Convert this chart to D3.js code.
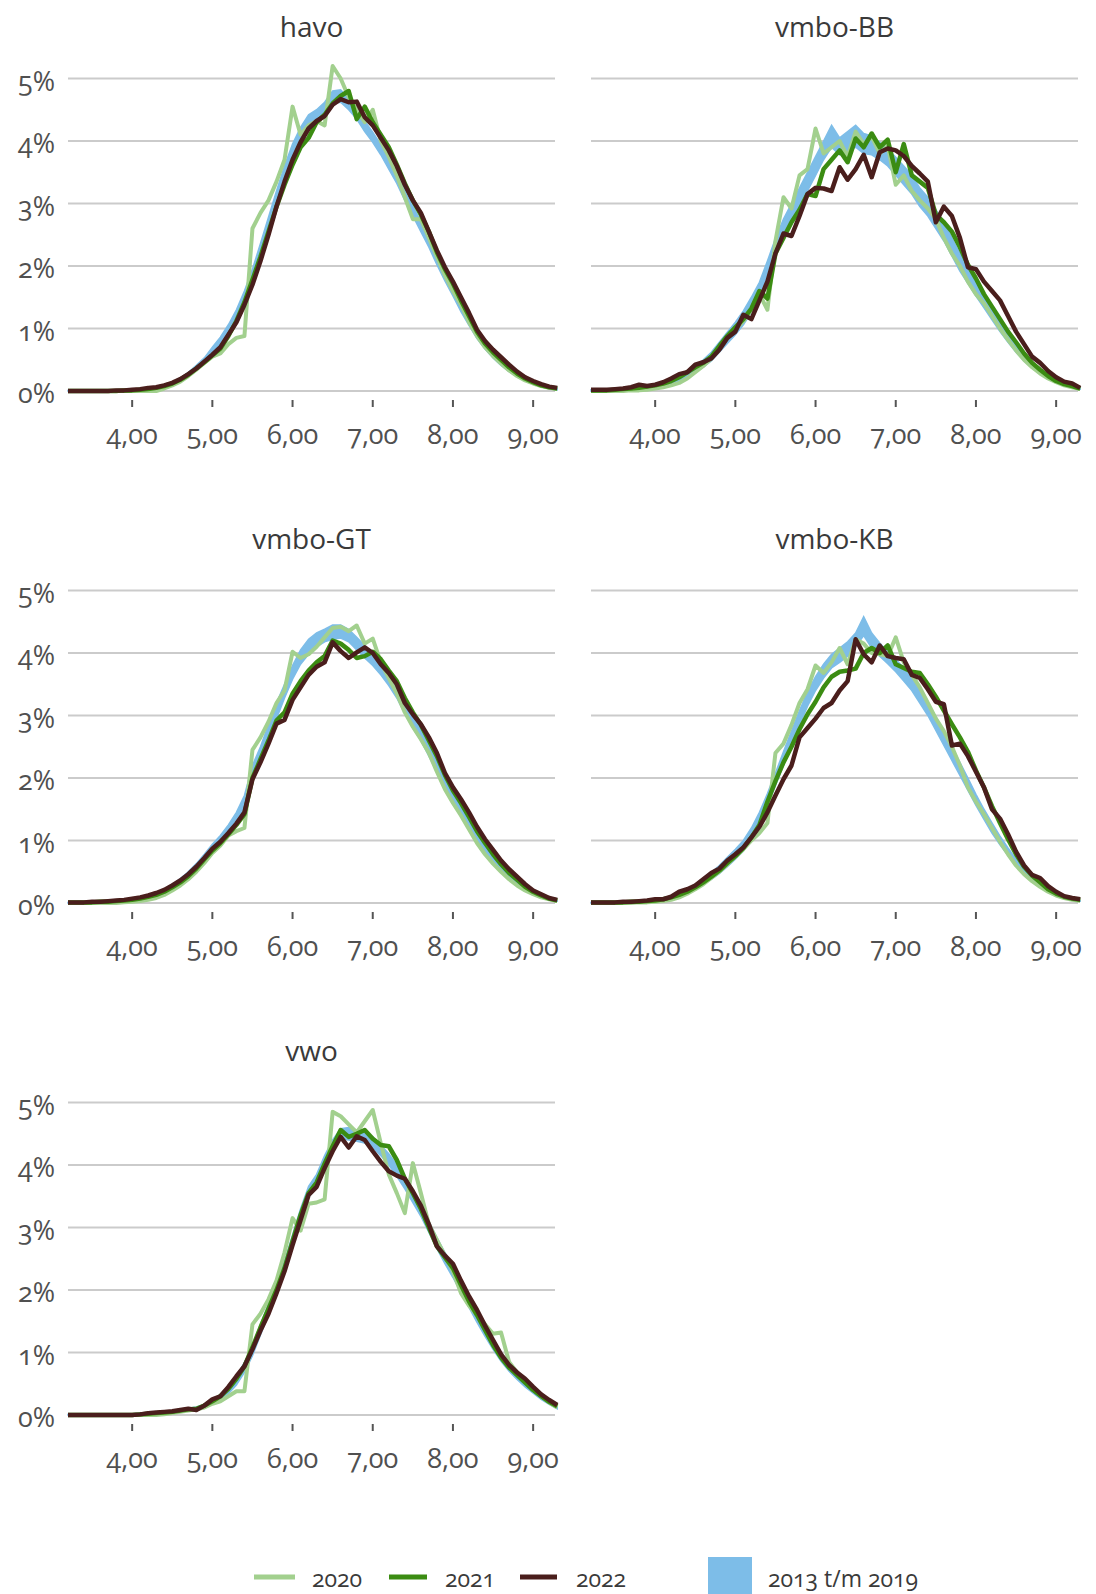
<!DOCTYPE html>
<html><head><meta charset="utf-8">
<script src="https://cdn.jsdelivr.net/npm/d3@7"></script>
<style>
body{margin:0;background:#fff;}
svg text{font-family:"Open Sans",sans-serif;font-feature-settings:"onum" 1;font-variant-numeric:oldstyle-nums;}
</style></head><body>
<svg id="chart" width="1096" height="1594"></svg>
<script>
// ---------- categories / ticks ----------
const grades = [3.2,3.3,3.4,3.5,3.6,3.7,3.8,3.9,
  4.0,4.1,4.2,4.3,4.4,4.5,4.6,4.7,4.8,4.9,
  5.0,5.1,5.2,5.3,5.4,5.5,5.6,5.7,5.8,5.9,
  6.0,6.1,6.2,6.3,6.4,6.5,6.6,6.7,6.8,6.9,
  7.0,7.1,7.2,7.3,7.4,7.5,7.6,7.7,7.8,7.9,
  8.0,8.1,8.2,8.3,8.4,8.5,8.6,8.7,8.8,8.9,
  9.0,9.1,9.2,9.3];
const panelNames = ["havo","vmbo-BB","vmbo-GT","vmbo-KB","vwo"];
const yearNames = ["2020","2021","2022"];
const bandName = "2013 t/m 2019";
const xTickValues = [4,5,6,7,8,9];
const yTickValues = [0,1,2,3,4,5];

// ---------- havo ----------
const havo2020 = [0,0,0,0,0,0,0,0,
  0,0,0,0,0.04,0.09,0.15,0.24,0.34,0.45,
  0.55,0.6,0.75,0.85,0.88,2.6,2.85,3.05,3.35,3.7,
  4.55,4.1,4.25,4.32,4.25,5.2,5.0,4.7,4.5,4.3,
  4.5,4.0,3.75,3.45,3.1,2.75,2.75,2.45,2.15,1.85,
  1.6,1.38,1.1,0.88,0.7,0.56,0.44,0.33,0.24,0.17,
  0.12,0.08,0.05,0.03];
const havo2021 = [0,0,0,0,0,0,0,0.01,
  0.01,0.02,0.03,0.05,0.08,0.12,0.18,0.26,0.36,0.46,
  0.57,0.68,0.88,1.12,1.42,1.78,2.15,2.55,2.95,3.3,
  3.62,3.9,4.05,4.3,4.42,4.6,4.72,4.8,4.35,4.55,
  4.3,4.1,3.9,3.62,3.32,3.05,2.82,2.55,2.22,1.95,
  1.72,1.45,1.2,0.95,0.76,0.62,0.5,0.38,0.28,0.2,
  0.14,0.09,0.06,0.04];
const havo2022 = [0,0,0,0,0,0,0.01,0.01,
  0.02,0.03,0.05,0.06,0.09,0.13,0.19,0.27,0.36,0.47,
  0.58,0.7,0.9,1.1,1.38,1.7,2.08,2.5,2.95,3.35,
  3.7,3.98,4.2,4.32,4.4,4.58,4.67,4.62,4.63,4.38,
  4.25,4.05,3.85,3.6,3.3,3.05,2.85,2.55,2.25,1.98,
  1.75,1.5,1.25,0.98,0.8,0.66,0.54,0.42,0.31,0.22,
  0.16,0.11,0.07,0.05];
const havoBandLo = [0,0,0,0,0,0,0,0,
  0.01,0.02,0.03,0.05,0.07,0.11,0.17,0.25,0.35,0.46,
  0.6,0.74,0.93,1.15,1.44,1.78,2.18,2.6,3.02,3.42,
  3.78,4.06,4.22,4.34,4.45,4.6,4.62,4.5,4.35,4.15,
  3.98,3.78,3.55,3.32,3.05,2.8,2.55,2.3,2.02,1.76,
  1.52,1.27,1.05,0.84,0.67,0.53,0.41,0.31,0.23,0.16,
  0.11,0.07,0.04,0.02];
const havoBandHi = [0.01,0.01,0.01,0.01,0.01,0.01,0.02,0.02,
  0.03,0.04,0.05,0.07,0.1,0.14,0.21,0.3,0.41,0.53,
  0.7,0.86,1.06,1.3,1.6,1.95,2.36,2.78,3.2,3.6,
  3.95,4.22,4.42,4.5,4.62,4.8,4.82,4.68,4.52,4.32,
  4.14,3.94,3.72,3.48,3.22,2.96,2.71,2.46,2.18,1.9,
  1.65,1.4,1.16,0.93,0.75,0.59,0.47,0.36,0.27,0.19,
  0.13,0.09,0.06,0.04];

// ---------- vmbo-BB ----------
const bb2020 = [0,0,0,0,0,0.01,0.01,0.02,
  0.04,0.06,0.09,0.13,0.2,0.3,0.4,0.52,0.68,0.85,
  0.98,1.12,1.3,1.55,1.3,2.4,3.1,2.92,3.45,3.55,
  4.2,3.8,3.9,4.0,3.75,4.15,3.95,4.07,3.8,3.92,
  3.3,3.45,3.2,3.05,2.92,2.75,2.45,2.2,2.0,1.75,
  1.55,1.4,1.2,1.0,0.82,0.65,0.5,0.38,0.28,0.2,
  0.14,0.09,0.06,0.03];
const bb2021 = [0.01,0.01,0.01,0.02,0.03,0.04,0.05,0.07,
  0.09,0.12,0.16,0.22,0.3,0.38,0.45,0.55,0.72,0.88,
  1.02,1.15,1.32,1.6,1.48,2.2,2.45,2.7,2.9,3.15,
  3.12,3.55,3.7,3.85,3.66,4.04,3.9,4.12,3.9,4.02,
  3.5,3.95,3.45,3.35,3.25,2.82,2.7,2.55,2.3,2.02,
  1.8,1.55,1.35,1.15,0.95,0.78,0.6,0.45,0.34,0.24,
  0.16,0.11,0.08,0.04];
const bb2022 = [0.02,0.02,0.02,0.03,0.04,0.06,0.1,0.08,
  0.1,0.14,0.2,0.27,0.3,0.42,0.46,0.52,0.66,0.85,
  0.95,1.22,1.15,1.45,1.75,2.2,2.52,2.48,2.8,3.15,
  3.25,3.24,3.2,3.58,3.38,3.55,3.78,3.42,3.82,3.88,
  3.85,3.76,3.6,3.48,3.35,2.7,2.95,2.8,2.45,1.98,
  1.95,1.75,1.6,1.45,1.2,0.95,0.75,0.55,0.45,0.32,
  0.22,0.15,0.12,0.05];
const bbBandLo = [0,0,0,0.01,0.01,0.02,0.03,0.04,
  0.06,0.08,0.12,0.16,0.22,0.3,0.38,0.48,0.62,0.76,
  0.9,1.06,1.26,1.5,1.82,2.16,2.45,2.7,2.95,3.2,
  3.45,3.7,3.9,3.78,3.85,3.9,3.8,3.78,3.7,3.6,
  3.45,3.3,3.15,2.95,2.8,2.6,2.4,2.16,1.92,1.72,
  1.52,1.33,1.14,0.95,0.78,0.62,0.48,0.37,0.27,0.19,
  0.13,0.08,0.05,0.03];
const bbBandHi = [0.02,0.02,0.02,0.03,0.03,0.04,0.05,0.07,
  0.1,0.14,0.18,0.24,0.32,0.4,0.5,0.62,0.78,0.94,
  1.1,1.28,1.5,1.74,2.08,2.44,2.75,3.0,3.25,3.5,
  3.75,4.0,4.25,4.05,4.15,4.25,4.12,4.08,3.98,3.88,
  3.74,3.6,3.45,3.25,3.1,2.9,2.7,2.45,2.2,1.98,
  1.78,1.57,1.36,1.15,0.96,0.78,0.62,0.47,0.35,0.25,
  0.17,0.12,0.09,0.05];

// ---------- vmbo-GT ----------
const gt2020 = [0,0,0,0,0,0,0,0.01,
  0.02,0.03,0.05,0.08,0.13,0.2,0.28,0.38,0.5,0.64,
  0.8,0.92,1.08,1.15,1.2,2.45,2.65,2.9,3.2,3.4,
  4.02,3.92,3.98,4.1,4.25,4.4,4.42,4.35,4.44,4.15,
  4.23,3.85,3.6,3.35,3.05,2.82,2.62,2.4,2.1,1.82,
  1.6,1.4,1.18,0.96,0.78,0.63,0.5,0.38,0.28,0.2,
  0.14,0.09,0.06,0.03];
const gt2021 = [0.01,0.01,0.01,0.01,0.02,0.02,0.03,0.04,
  0.05,0.07,0.1,0.13,0.18,0.25,0.33,0.43,0.55,0.7,
  0.84,0.96,1.1,1.25,1.42,2.0,2.3,2.6,2.92,3.05,
  3.35,3.55,3.72,3.85,3.95,4.2,4.15,4.05,3.92,3.95,
  4.02,3.9,3.72,3.55,3.28,3.05,2.85,2.6,2.35,2.05,
  1.8,1.6,1.38,1.15,0.96,0.78,0.62,0.48,0.37,0.26,
  0.18,0.12,0.07,0.04];
const gt2022 = [0.01,0.01,0.01,0.02,0.02,0.03,0.04,0.05,
  0.07,0.09,0.12,0.16,0.21,0.28,0.36,0.46,0.58,0.72,
  0.87,0.98,1.12,1.27,1.45,1.98,2.25,2.55,2.87,2.93,
  3.25,3.45,3.65,3.78,3.85,4.17,4.03,3.92,4.01,4.09,
  4.0,3.82,3.68,3.5,3.2,3.02,2.86,2.65,2.4,2.08,
  1.85,1.66,1.45,1.22,1.02,0.85,0.68,0.54,0.42,0.3,
  0.2,0.14,0.08,0.05];
const gtBandLo = [0,0,0,0,0.01,0.01,0.02,0.03,
  0.04,0.06,0.08,0.11,0.16,0.22,0.3,0.4,0.52,0.66,
  0.8,0.94,1.1,1.28,1.52,1.95,2.3,2.62,2.95,3.28,
  3.58,3.82,3.98,4.1,4.18,4.22,4.24,4.18,4.05,3.92,
  3.8,3.65,3.48,3.28,3.03,2.8,2.6,2.35,2.1,1.86,
  1.64,1.42,1.2,1.0,0.82,0.66,0.52,0.4,0.3,0.21,
  0.15,0.09,0.05,0.03];
const gtBandHi = [0.01,0.01,0.01,0.02,0.02,0.03,0.04,0.05,
  0.07,0.09,0.12,0.16,0.22,0.3,0.39,0.5,0.63,0.78,
  0.94,1.08,1.25,1.45,1.72,2.2,2.5,2.85,3.2,3.5,
  3.8,4.05,4.22,4.32,4.38,4.45,4.45,4.38,4.25,4.12,
  3.98,3.85,3.68,3.48,3.22,2.98,2.78,2.52,2.28,2.02,
  1.78,1.56,1.34,1.12,0.92,0.74,0.59,0.46,0.34,0.24,
  0.17,0.11,0.07,0.04];

// ---------- vmbo-KB ----------
const kb2020 = [0,0,0,0,0,0,0.01,0.01,
  0.02,0.03,0.05,0.09,0.15,0.22,0.3,0.4,0.5,0.62,
  0.74,0.86,1.0,1.12,1.28,2.4,2.55,2.85,3.2,3.42,
  3.8,3.68,3.85,4.08,3.82,4.22,4.15,4.0,3.98,3.95,
  4.25,3.85,3.65,3.45,3.2,2.95,2.75,2.5,2.2,1.85,
  1.62,1.42,1.2,0.98,0.78,0.6,0.46,0.35,0.26,0.18,
  0.12,0.08,0.05,0.03];
const kb2021 = [0.01,0.01,0.01,0.01,0.01,0.02,0.02,0.03,
  0.04,0.06,0.09,0.13,0.18,0.25,0.33,0.42,0.52,0.64,
  0.75,0.88,1.05,1.25,1.62,1.95,2.25,2.5,2.78,3.02,
  3.22,3.45,3.62,3.7,3.72,3.75,4.0,4.08,4.0,4.12,
  3.82,3.76,3.7,3.68,3.5,3.3,3.08,2.86,2.65,2.42,
  2.12,1.85,1.55,1.28,1.02,0.78,0.58,0.44,0.33,0.22,
  0.15,0.1,0.07,0.05];
const kb2022 = [0.01,0.01,0.01,0.01,0.02,0.02,0.03,0.04,
  0.06,0.06,0.1,0.18,0.22,0.28,0.38,0.48,0.55,0.68,
  0.78,0.89,1.05,1.22,1.45,1.72,1.98,2.2,2.65,2.8,
  2.95,3.12,3.2,3.4,3.55,4.22,3.98,3.85,4.12,3.95,
  3.92,3.9,3.65,3.6,3.42,3.22,3.18,2.52,2.55,2.35,
  2.1,1.85,1.5,1.35,1.1,0.82,0.6,0.45,0.4,0.27,
  0.18,0.11,0.08,0.06];
const kbBandLo = [0,0,0,0,0.01,0.01,0.02,0.02,
  0.03,0.05,0.07,0.11,0.16,0.22,0.3,0.38,0.47,0.58,
  0.7,0.83,1.0,1.25,1.55,1.88,2.2,2.52,2.85,3.15,
  3.4,3.6,3.76,3.85,3.95,4.1,4.28,4.08,3.95,3.83,
  3.7,3.55,3.4,3.2,3.0,2.76,2.52,2.28,2.04,1.8,
  1.56,1.34,1.12,0.93,0.76,0.6,0.46,0.35,0.26,0.18,
  0.12,0.08,0.05,0.03];
const kbBandHi = [0.01,0.01,0.01,0.02,0.02,0.03,0.03,0.04,
  0.06,0.08,0.11,0.16,0.23,0.3,0.39,0.49,0.6,0.73,
  0.86,1.0,1.2,1.45,1.75,2.08,2.42,2.75,3.08,3.38,
  3.62,3.82,3.98,4.08,4.18,4.32,4.58,4.32,4.16,4.02,
  3.9,3.76,3.6,3.4,3.2,2.98,2.75,2.5,2.25,2.0,
  1.74,1.5,1.28,1.07,0.88,0.7,0.55,0.42,0.31,0.22,
  0.15,0.1,0.07,0.04];

// ---------- vwo ----------
const vwo2020 = [0,0,0,0,0,0,0,0,
  0,0,0,0,0.01,0.03,0.05,0.07,0.09,0.12,
  0.18,0.22,0.3,0.38,0.38,1.45,1.62,1.85,2.15,2.6,
  3.15,2.95,3.38,3.4,3.45,4.85,4.78,4.65,4.52,4.7,
  4.88,4.35,3.85,3.55,3.23,4.03,3.55,3.05,2.8,2.55,
  2.3,1.95,1.75,1.6,1.45,1.3,1.32,0.85,0.68,0.55,
  0.42,0.3,0.2,0.12];
const vwo2021 = [0,0,0,0,0,0,0,0,
  0,0.01,0.02,0.03,0.04,0.05,0.07,0.09,0.1,0.15,
  0.22,0.3,0.42,0.58,0.78,1.08,1.4,1.7,2.0,2.35,
  2.78,3.2,3.55,3.72,4.02,4.3,4.56,4.45,4.5,4.56,
  4.42,4.32,4.3,4.08,3.78,3.55,3.3,3.0,2.7,2.52,
  2.35,2.08,1.82,1.6,1.36,1.12,0.92,0.76,0.64,0.52,
  0.4,0.3,0.21,0.14];
const vwo2022 = [0,0,0,0,0,0,0,0,
  0,0.01,0.03,0.04,0.05,0.06,0.08,0.1,0.08,0.15,
  0.25,0.3,0.45,0.62,0.78,1.05,1.35,1.62,1.95,2.3,
  2.72,3.12,3.52,3.65,3.95,4.22,4.45,4.28,4.46,4.4,
  4.22,4.05,3.9,3.83,3.78,3.58,3.35,3.05,2.7,2.55,
  2.42,2.15,1.9,1.68,1.43,1.2,0.97,0.8,0.68,0.58,
  0.45,0.33,0.24,0.16];
const vwoBandLo = [0,0,0,0,0,0,0,0,
  0,0.01,0.01,0.02,0.03,0.04,0.05,0.07,0.09,0.12,
  0.17,0.24,0.34,0.48,0.68,0.95,1.28,1.6,1.92,2.28,
  2.68,3.1,3.48,3.65,3.95,4.22,4.42,4.4,4.38,4.35,
  4.28,4.15,4.0,3.82,3.62,3.4,3.18,2.92,2.66,2.42,
  2.2,1.96,1.72,1.48,1.26,1.05,0.86,0.7,0.57,0.45,
  0.35,0.25,0.17,0.1];
const vwoBandHi = [0.01,0.01,0.01,0.01,0.01,0.01,0.01,0.01,
  0.02,0.03,0.03,0.04,0.05,0.07,0.09,0.11,0.13,0.17,
  0.24,0.33,0.46,0.62,0.84,1.12,1.45,1.78,2.1,2.46,
  2.88,3.3,3.66,3.85,4.15,4.4,4.58,4.6,4.56,4.52,
  4.45,4.32,4.18,4.0,3.8,3.58,3.35,3.1,2.84,2.6,
  2.38,2.12,1.88,1.63,1.4,1.17,0.97,0.8,0.65,0.52,
  0.4,0.3,0.21,0.13];

// ---------- assemble ----------
const panels = [
  {name: panelNames[0], lo: havoBandLo, hi: havoBandHi, years: [havo2020, havo2021, havo2022]},
  {name: panelNames[1], lo: bbBandLo, hi: bbBandHi, years: [bb2020, bb2021, bb2022]},
  {name: panelNames[2], lo: gtBandLo, hi: gtBandHi, years: [gt2020, gt2021, gt2022]},
  {name: panelNames[3], lo: kbBandLo, hi: kbBandHi, years: [kb2020, kb2021, kb2022]},
  {name: panelNames[4], lo: vwoBandLo, hi: vwoBandHi, years: [vwo2020, vwo2021, vwo2022]}
];

// ---------- layout / style ----------
const yearColors = ["#a2d08e", "#3b8c12", "#4a1e1c"];
const yearWidths = [4, 4.5, 4.5];
const bandColor = "#7dbde8";
const gridColor = "#cbcbcb";
const colLeft = [68, 591];
const rowTop = [78.5, 590.5, 1102.5];
const plotW = 487, plotH = 312.5;

const svg = d3.select("#chart");
const x = d3.scaleLinear().domain([3.2, 9.3]).range([0, 489.2]);
const y = d3.scaleLinear().domain([0, 5]).range([plotH, 0]);
const fmtX = d => d3.format(".2f")(d).replace(".", ",");

const line = d3.line().x((d,i) => x(grades[i])).y(d => y(d)).curve(d3.curveLinear);

panels.forEach((p, k) => {
  const col = k % 2, row = Math.floor(k / 2);
  const g = svg.append("g").attr("transform", `translate(${colLeft[col]},${rowTop[row]})`);

  // gridlines
  g.selectAll("line.grid").data(yTickValues).join("line")
    .attr("class","grid")
    .attr("x1", 0).attr("x2", plotW)
    .attr("y1", d => y(d)).attr("y2", d => y(d))
    .attr("stroke", gridColor).attr("stroke-width", 2);

  // y labels only on the left column
  if (col === 0) {
    g.selectAll("text.ylab").data(yTickValues).join("text")
      .attr("class","ylab")
      .attr("x", -13).attr("y", d => y(d) + 12)
      .attr("text-anchor","end")
      .attr("font-size", 27).attr("fill", "#505050")
      .text(d => d + "%");
  }

  // x ticks
  const xt = g.append("g").attr("transform", `translate(0,${plotH})`);
  xt.selectAll("line").data(xTickValues).join("line")
    .attr("x1", d => x(d)).attr("x2", d => x(d))
    .attr("y1", 9).attr("y2", 16)
    .attr("stroke", "#555").attr("stroke-width", 2);
  xt.selectAll("text").data(xTickValues).join("text")
    .attr("x", d => x(d)).attr("y", 53)
    .attr("text-anchor","middle")
    .attr("font-size", 27).attr("fill", "#505050")
    .text(fmtX);

  // title
  g.append("text").attr("x", plotW/2).attr("y", -42)
    .attr("text-anchor","middle").attr("font-size", 28).attr("fill","#3a3a3a")
    .text(p.name);

  // band 2013 t/m 2019
  const area = d3.area()
    .x((d,i) => x(grades[i]))
    .y0((d,i) => y(p.lo[i]))
    .y1((d,i) => y(p.hi[i]));
  g.append("path").datum(p.lo).attr("d", area).attr("fill", bandColor).attr("stroke", bandColor).attr("stroke-width", 1.5);

  // year lines
  p.years.forEach((vals, j) => {
    g.append("path").datum(vals).attr("d", line)
      .attr("fill","none").attr("stroke", yearColors[j])
      .attr("stroke-width", yearWidths[j])
      .attr("stroke-linejoin","round").attr("stroke-linecap","butt");
  });
});

// ---------- legend ----------
const lg = svg.append("g");
const legendItems = [
  {label: yearNames[0], x1: 254, x2: 295, tx: 312},
  {label: yearNames[1], x1: 389, x2: 427, tx: 445},
  {label: yearNames[2], x1: 520, x2: 557, tx: 576}
];
legendItems.forEach((it, j) => {
  lg.append("line").attr("x1", it.x1).attr("x2", it.x2).attr("y1", 1577).attr("y2", 1577)
    .attr("stroke", yearColors[j]).attr("stroke-width", 5);
  lg.append("text").attr("x", it.tx).attr("y", 1587).attr("font-size", 23).attr("fill","#3a3a3a")
    .text(it.label);
});
lg.append("rect").attr("x", 708).attr("y", 1557).attr("width", 44).attr("height", 40).attr("fill", bandColor);
lg.append("text").attr("x", 768).attr("y", 1587).attr("font-size", 23).attr("fill","#3a3a3a").text(bandName);
</script>
</body></html>
